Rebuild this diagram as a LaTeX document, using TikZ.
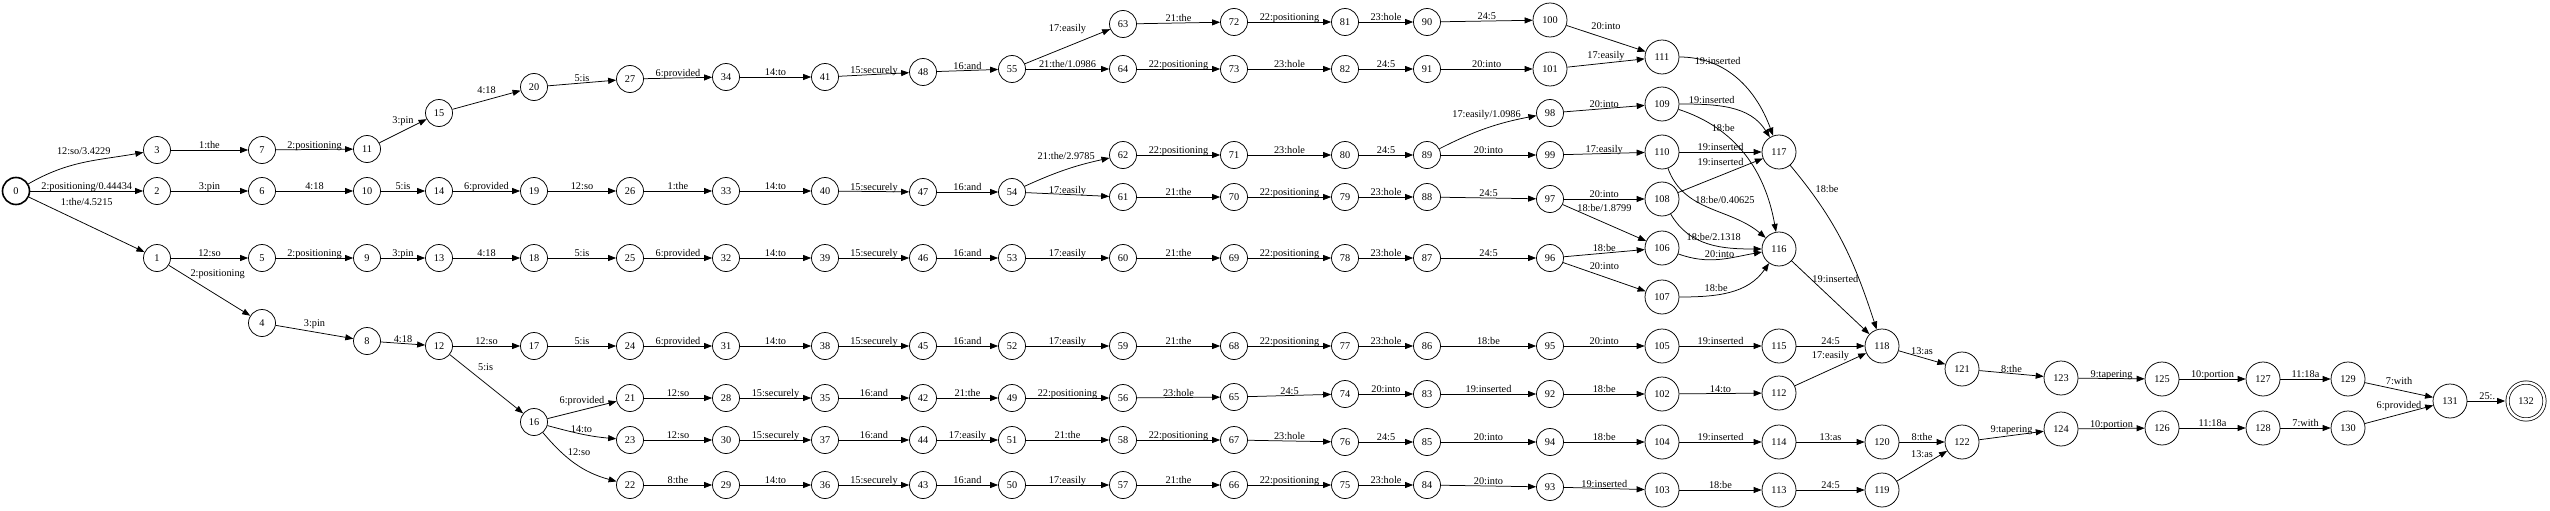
\documentclass[tikz,border=0pt]{standalone}
\usepackage{fontspec}
\setmainfont{Liberation Serif}
\usepackage{tikz}
\usetikzlibrary{arrows.meta}

\begin{document}
\begin{tikzpicture}[x=1pt, y=-1pt,
        st/.style={circle, draw, line width=0.75pt, minimum size=27pt, inner sep=0pt, font=\fontsize{10.3}{12}\selectfont},
        wst/.style={st, minimum size=34pt},
        arr/.style={-{Triangle[length=8pt,width=6pt]}, line width=0.75pt},
        lbl/.style={font=\fontsize{10.3}{12}\selectfont, inner sep=1pt, text depth=0pt}]
            \useasboundingbox (0,0) rectangle (2550,511);

            \node[st, line width=1.6pt] (n0) at (16,191) {0};
            \foreach \n/\x/\y in {1/157/258, 2/157/191, 3/157/150, 4/262/323, 5/262/258, 6/262/191, 7/262/150,
                8/367/341, 9/367/258, 10/367/191, 11/367/149, 12/439/346, 13/439/258, 14/439/191, 15/439/113,
                16/534/422, 17/534/346, 18/534/258, 19/534/191, 20/534/87,
                21/630/398, 22/630/485, 23/630/440, 24/630/346, 25/630/258, 26/630/191, 27/630/79,
                28/726/398, 29/726/485, 30/726/440, 31/726/346, 32/726/258, 33/726/191, 34/726/77,
                35/825/398, 36/825/485, 37/825/440, 38/825/346, 39/825/258, 40/825/191, 41/825/77,
                42/923/398, 43/923/485, 44/923/440, 45/923/346, 46/923/258, 47/923/192, 48/923/72,
                49/1012/398, 50/1012/485, 51/1012/440, 52/1012/346, 53/1012/258, 54/1012/192, 55/1012/69,
                56/1123/398, 57/1123/485, 58/1123/440, 59/1123/346, 60/1123/258, 61/1123/197, 62/1123/155, 63/1123/24, 64/1123/69,
                65/1234/397, 66/1234/485, 67/1234/440, 68/1234/346, 69/1234/258, 70/1234/197, 71/1234/155, 72/1234/22, 73/1234/69,
                74/1345/394, 75/1345/485, 76/1345/442, 77/1345/346, 78/1345/258, 79/1345/197, 80/1345/155, 81/1345/22, 82/1345/69,
                83/1427/394, 84/1427/485, 85/1427/442, 86/1427/346, 87/1427/258, 88/1427/197, 89/1427/155, 90/1427/22, 91/1427/69,
                92/1550/394, 93/1550/487, 94/1550/442, 95/1550/346, 96/1550/258, 97/1550/199, 98/1550/113, 99/1550/155}{
                \node[st] (n\n) at (\x,\y) {\n};
            }
            \foreach \n/\x/\y in {100/1550/20, 101/1550/69,
                102/1662/394, 103/1662/490, 104/1662/442, 105/1662/346, 106/1662/248, 107/1662/297, 108/1662/199, 109/1662/104, 110/1662/152, 111/1662/57,
                112/1779/393, 113/1779/490, 114/1779/442, 115/1779/346, 116/1779/249, 117/1779/152,
                118/1882/346, 119/1882/490, 120/1882/442, 121/1962/369, 122/1962/442, 123/2061/378, 124/2061/429,
                125/2162/379, 126/2162/428, 127/2263/379, 128/2263/428, 129/2348/379, 130/2348/428, 131/2450/401}{
                \node[wst] (n\n) at (\x,\y) {\n};
            }
            \node[wst, double, double distance=2.5pt, minimum size=37pt] (n132) at (2526,401) {132};

            \foreach \a/\b/\lab in {3/7/1:the, 7/11/2:positioning, 20/27/5:is, 27/34/6:provided,
                34/41/14:to, 41/48/15:securely, 48/55/16:and, 63/72/21:the, 64/73/22:positioning, 72/81/22:positioning,
                73/82/23:hole, 81/90/23:hole, 82/91/24:5, 90/100/24:5, 91/101/20:into,
                2/6/3:pin, 6/10/4:18, 10/14/5:is, 14/19/6:provided, 19/26/12:so, 26/33/1:the, 33/40/14:to, 40/47/15:securely,
                47/54/16:and, 54/61/17:easily, 62/71/22:positioning, 61/70/21:the, 71/80/23:hole, 70/79/22:positioning,
                80/89/24:5, 79/88/23:hole, 89/99/20:into, 88/97/24:5, 98/109/20:into, 99/110/17:easily, 97/108/20:into,
                110/117/19:inserted, 96/106/18:be,
                1/5/12:so, 5/9/2:positioning, 9/13/3:pin, 13/18/4:18, 18/25/5:is, 25/32/6:provided, 32/39/14:to,
                39/46/15:securely, 46/53/16:and, 53/60/17:easily, 60/69/21:the, 69/78/22:positioning, 78/87/23:hole, 87/96/24:5,
                8/12/4:18, 12/17/12:so, 17/24/5:is, 24/31/6:provided, 31/38/14:to, 38/45/15:securely, 45/52/16:and,
                52/59/17:easily, 59/68/21:the, 68/77/22:positioning, 77/86/23:hole, 86/95/18:be, 95/105/20:into,
                105/115/19:inserted, 115/118/24:5,
                21/28/12:so, 28/35/15:securely, 35/42/16:and, 42/49/21:the, 49/56/22:positioning,
                56/65/23:hole, 65/74/24:5, 74/83/20:into, 83/92/19:inserted, 92/102/18:be, 102/112/14:to,
                23/30/12:so, 30/37/15:securely, 37/44/16:and, 44/51/17:easily, 51/58/21:the, 58/67/22:positioning,
                67/76/23:hole, 76/85/24:5, 85/94/20:into, 94/104/18:be, 104/114/19:inserted, 114/120/13:as, 120/122/8:the,
                22/29/8:the, 29/36/14:to, 36/43/15:securely, 43/50/16:and, 50/57/17:easily, 57/66/21:the, 66/75/22:positioning,
                75/84/23:hole, 84/93/20:into, 93/103/19:inserted, 103/113/18:be, 113/119/24:5,
                121/123/8:the, 123/125/9:tapering, 125/127/10:portion, 127/129/11:18a,
                124/126/10:portion, 126/128/11:18a, 128/130/7:with}{
                \draw[arr] (n\a) -- node[lbl, above] {\lab} (n\b);
            }
            \foreach \a/\b/\lab/\off in {11/15/3:pin/6, 15/20/4:18/5, 55/63/17:easily/14, 100/111/20:into/8,
                101/111/17:easily/3, 112/118/17:easily/10, 119/122/13:as/7, 129/131/7:with/4, 130/131/6:provided/5,
                118/121/13:as/2, 4/8/3:pin/4, 96/107/20:into/6, 108/117/19:inserted/9,
                16/21/6:provided/5, 122/124/9:tapering/2}{
                \draw[arr] (n\a) -- node[lbl, above=\off pt] {\lab} (n\b);
            }

            \draw[arr] (n0) to[out=30, in=190] node[lbl, pos=0.5, above=7pt] {12:so/3.4229} (n3);
            \draw[arr] (n0) -- node[lbl, above] {2:positioning/0.44434} (n2);
            \draw[arr] (n0) -- node[lbl, pos=0.5, above=18pt] {1:the/4.5215} (n1);
            \draw[arr] (n1) -- node[lbl, pos=0.25, above right] {2:positioning} (n4);
            \draw[arr] (n12) -- node[lbl, pos=0.3, above right, xshift=5pt] {5:is} (n16);
            \draw[arr] (n16) to[out=-15, in=175] node[lbl, above] {14:to} (n23);
            \draw[arr] (n16) to[out=-50, in=165] node[lbl, pos=0.55, above=9pt] {12:so} (n22);
            \draw[arr] (n55) -- node[lbl, above] {21:the/1.0986} (n64);
            \draw[arr] (n54) to[bend left=6] node[lbl, above=9pt] {21:the/2.9785} (n62);
            \draw[arr] (n89) to[bend left=8] node[lbl, above=9pt] {17:easily/1.0986} (n98);
            \draw[arr] (n97) -- node[lbl, above=10pt] {18:be/1.8799} (n106);
            \draw[arr] (n111) to[out=0, in=110] node[lbl, pos=0.3, above] {19:inserted} (n117);
            \draw[arr] (n109) to[out=0, in=122] node[lbl, pos=0.3, above] {19:inserted} (n117);
            \draw[arr] (n109) to[out=-18, in=100] node[lbl, pos=0.3, above] {18:be} (n116);
            \draw[arr] (n110) to[out=-70, in=140] node[lbl, pos=0.35, right] {18:be/0.40625} (n116);
            \draw[arr] (n108) to[out=-60, in=180] node[lbl, pos=0.55, above=3pt] {18:be/2.1318} (n116);
            \draw[arr] (n106) to[out=-20, in=190] node[lbl, above] {20:into} (n116);
            \draw[arr] (n107) to[out=0, in=235] node[lbl, pos=0.35, above=2pt] {18:be} (n116);
            \draw[arr] (n117) to[out=-50, in=108] node[lbl, pos=0.15, right=5pt] {18:be} (n118);
            \draw[arr] (n116) -- node[lbl, pos=0.25, right] {19:inserted} (n118);
            \draw[arr, shorten >=2pt] (n131) -- node[lbl, above] {25:.} (n132);
        \end{tikzpicture}
\end{document}
